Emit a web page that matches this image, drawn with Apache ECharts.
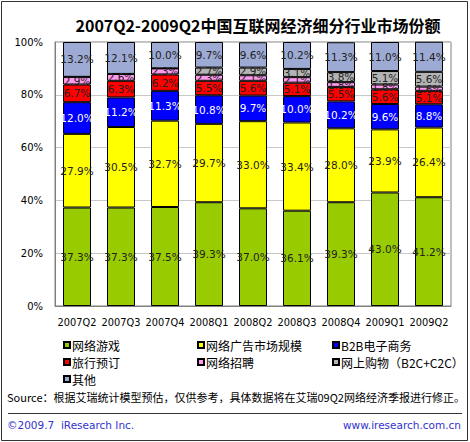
<!DOCTYPE html>
<html>
<head>
<meta charset="utf-8">
<script src="https://cdn.jsdelivr.net/npm/echarts@6/dist/echarts.min.js"></script>
<style>
  html, body { margin: 0; padding: 0; background: #fff; }
  #chart { width: 470px; height: 442px; }
</style>
</head>
<body>
<div id="chart"></div>
<script>
(function() {
  var categories = ['2007Q2', '2007Q3', '2007Q4', '2008Q1', '2008Q2', '2008Q3', '2008Q4', '2009Q1', '2009Q2'];
  var game = [37.3, 37.3, 37.5, 39.3, 37.0, 36.1, 39.3, 43.0, 41.2];
  var ad = [27.9, 30.5, 32.7, 29.7, 33.0, 33.4, 28.0, 23.9, 26.4];
  var b2b = [12.0, 11.2, 11.3, 10.8, 9.7, 10.0, 10.2, 9.6, 8.8];
  var travel = [6.7, 6.3, 6.2, 5.5, 5.6, 5.1, 5.5, 5.6, 5.1];
  var recruit = [2.9, 2.6, 2.3, 2.3, 2.1, 2.1, 1.8, 1.8, 1.6];
  var shopping = [0, 0, 0, 2.7, 2.9, 3.1, 3.8, 5.1, 5.6];
  var other = [13.2, 12.1, 10.0, 9.7, 9.6, 10.2, 11.3, 11.0, 11.4];
  var yTicks = [0, 20, 40, 60, 80, 100];

  var font = '"DejaVu Sans", "Noto Sans CJK SC", sans-serif';
  var cjk = '"Noto Sans CJK SC", "DejaVu Sans", sans-serif';

  function seg(name, data, color, labelColor) {
    return {
      name: name,
      type: 'bar',
      stack: 'total',
      barWidth: 28,
      data: data,
      itemStyle: { color: color, borderColor: '#000', borderWidth: 1 },
      label: {
        show: true,
        position: 'inside',
        color: labelColor,
        fontFamily: font,
        fontSize: 10.5,
        formatter: function(p) { return p.value > 0 ? p.value.toFixed(1) + '%' : ''; }
      }
    };
  }

  var legendBase = {
    orient: 'vertical',
    icon: 'rect',
    itemWidth: 6,
    itemHeight: 6,
    itemGap: 5,
    textStyle: { fontFamily: cjk, fontSize: 12, color: '#000', padding: [0, 0, 0, -3] },
    top: 334
  };

  var chart = echarts.init(document.getElementById('chart'), null, { renderer: 'svg' });
  chart.setOption({
    animation: false,
    title: {
      text: '2007Q2-2009Q2中国互联网经济细分行业市场份额',
      left: 253,
      textAlign: 'center',
      top: 12,
      textStyle: { fontFamily: cjk, fontSize: 16, fontWeight: 'bold', color: '#000' }
    },
    grid: { left: 55, right: 19, top: 42, bottom: 136, show: true, borderColor: '#808080', borderWidth: 1 },
    legend: [
      Object.assign({}, legendBase, { left: 58, data: ['网络游戏', '旅行预订', '其他'] }),
      Object.assign({}, legendBase, { left: 192, data: ['网络广告市场规模', '网络招聘'] }),
      Object.assign({}, legendBase, { left: 327, data: ['B2B电子商务', '网上购物（B2C+C2C）'] })
    ],
    xAxis: {
      type: 'category',
      data: categories,
      axisLine: { lineStyle: { color: '#808080' } },
      axisTick: { show: false },
      axisLabel: { color: '#000', fontFamily: font, fontSize: 9.8, margin: 12, interval: 0 }
    },
    yAxis: {
      type: 'value',
      min: yTicks[0],
      max: yTicks[yTicks.length - 1],
      interval: 20,
      axisLine: { show: true, lineStyle: { color: '#808080' } },
      axisTick: { show: false },
      splitLine: { lineStyle: { color: '#c8c8c8' } },
      axisLabel: { color: '#000', fontFamily: font, fontSize: 10, margin: 12, formatter: '{value}%' }
    },
    series: [
      seg('网络游戏', game, '#99cc00', '#222'),
      seg('网络广告市场规模', ad, '#ffff00', '#222'),
      seg('B2B电子商务', b2b, '#0000ff', '#fff'),
      seg('旅行预订', travel, '#ff0000', '#222'),
      seg('网络招聘', recruit, '#ff99ee', '#222'),
      seg('网上购物（B2C+C2C）', shopping, '#b4b4b4', '#222'),
      seg('其他', other, '#9daad3', '#222')
    ],
    graphic: [
      { type: 'rect', shape: { x: 1.5, y: 1.5, width: 466, height: 439 }, style: { fill: 'none', stroke: '#333', lineWidth: 1 } },
      { type: 'text', left: 7, top: 391, style: { text: 'Source：根据艾瑞统计模型预估，仅供参考，具体数据将在艾瑞09Q2网络经济季报进行修正。', fontFamily: cjk, fontSize: 11, fill: '#000' } },
      { type: 'line', shape: { x1: 8, y1: 413.5, x2: 462, y2: 413.5 }, style: { stroke: '#333', lineWidth: 1 } },
      { type: 'text', left: 7, top: 420, style: { text: '©2009.7  iResearch Inc.', fontFamily: font, fontSize: 10.5, fill: '#3333cc' } },
      { type: 'text', right: 9, top: 420, style: { text: 'www.iresearch.com.cn', fontFamily: font, fontSize: 10.5, fill: '#3333cc' } }
    ]
  });
  window.addEventListener('resize', function() { chart.resize(); });
})();
</script>
</body>
</html>
